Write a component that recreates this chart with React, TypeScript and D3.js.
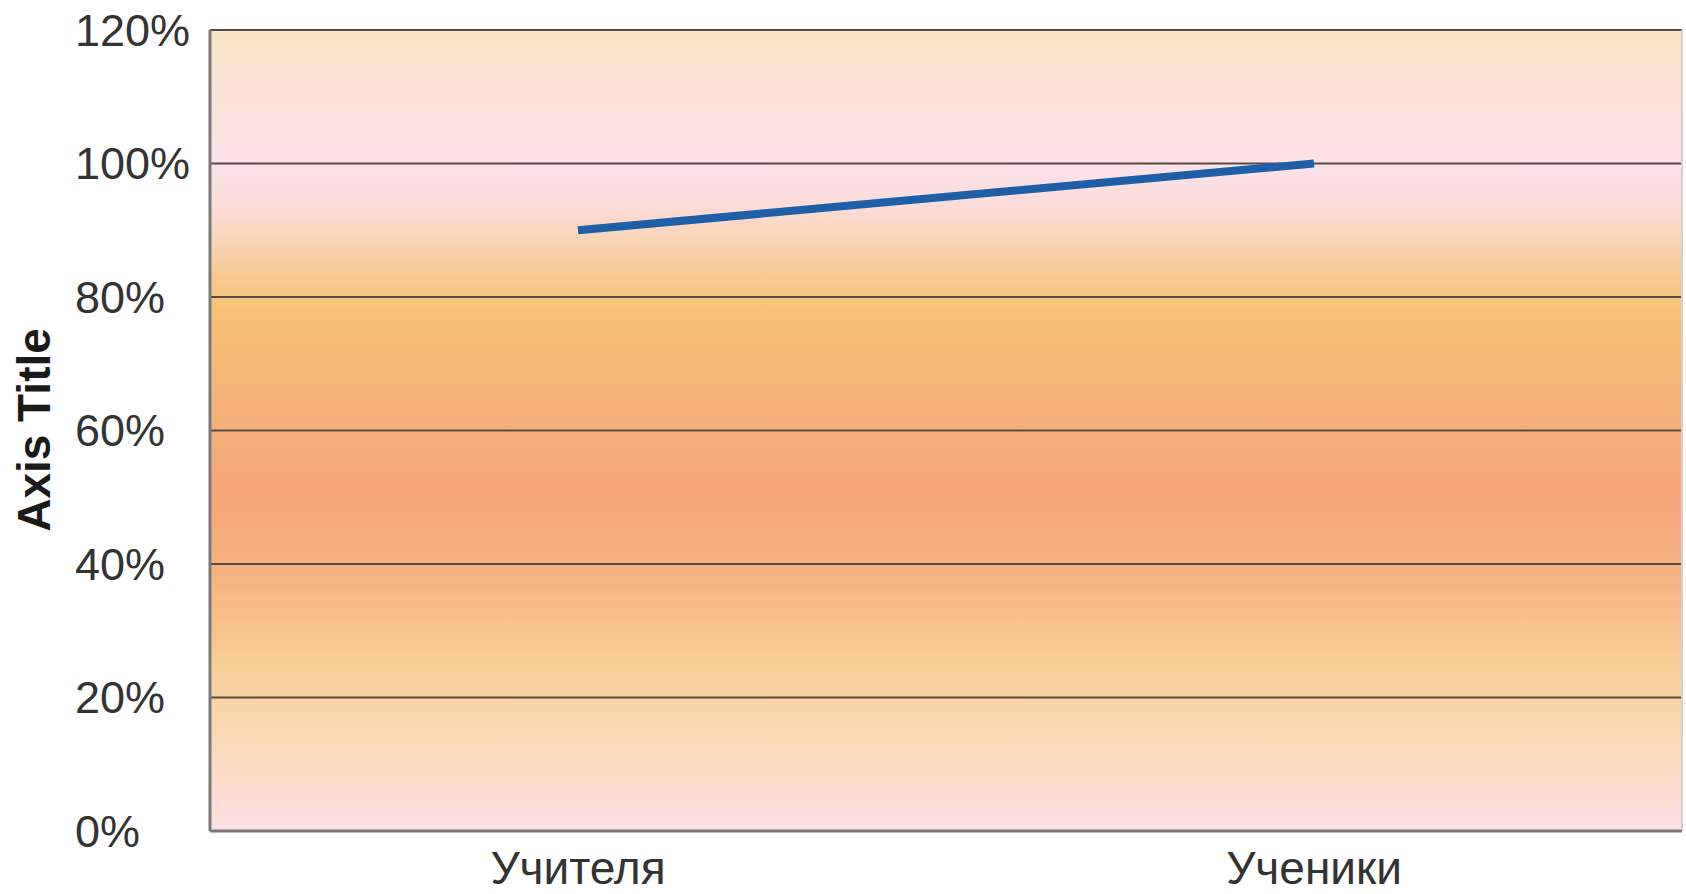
import React from "react";
import * as d3 from "d3";

const categories = ["Учителя", "Ученики"];
const values = [0.9, 1.0];
const yTicks = [0, 0.2, 0.4, 0.6, 0.8, 1.0, 1.2];
const axisTitle = "Axis Title";

const W = 1686;
const H = 894;
const margin = { left: 210, top: 30, right: 4, bottom: 63 };

export default function App() {
  const x = d3
    .scaleBand<string>()
    .domain(categories)
    .range([margin.left, W - margin.right])
    .padding(0);
  const y = d3
    .scaleLinear()
    .domain([0, 1.2])
    .range([H - margin.bottom, margin.top]);
  const fmt = d3.format(".0%");
  const line = d3
    .line<number>()
    .x((_, i) => (x(categories[i]) as number) + x.bandwidth() / 2)
    .y((d) => y(d));

  const stops: [number, string][] = [
    [0, "#f8e6c6"],
    [0.08, "#fbe3d8"],
    [0.17, "#fde2ea"],
    [0.22, "#fbdcd8"],
    [0.3, "#f8cc98"],
    [0.35, "#f7c276"],
    [0.45, "#f5b478"],
    [0.58, "#f5a67a"],
    [0.68, "#f6b282"],
    [0.8, "#f9d09a"],
    [0.88, "#fad8b4"],
    [1, "#fde0e6"],
  ];

  const left = margin.left;
  const right = W - margin.right;
  const top = margin.top;
  const bottom = H - margin.bottom;
  const font = "'Liberation Sans', Arial, sans-serif";

  return (
    <svg
      width={W}
      height={H}
      style={{ position: "absolute", left: 0, top: 0, background: "#fff" }}
    >
      <defs>
        <linearGradient id="bg" x1="0" y1="0" x2="0" y2="1">
          {stops.map(([o, c], i) => (
            <stop key={i} offset={o} stopColor={c} />
          ))}
        </linearGradient>
      </defs>
      <rect x={left} y={top} width={right - left} height={bottom - top} fill="url(#bg)" />
      {yTicks.map((t, i) => (
        <g key={i}>
          {t > 0 && (
            <line x1={left} x2={right} y1={y(t)} y2={y(t)} stroke="#5b4a40" strokeWidth={2} />
          )}
          <text
            x={75}
            y={y(t)}
            dominantBaseline="central"
            fontFamily={font}
            fontSize={45}
            fill="#333"
          >
            {fmt(t)}
          </text>
        </g>
      ))}
      <line x1={left} x2={left} y1={top} y2={bottom} stroke="#7a7a7a" strokeWidth={3} />
      <line x1={right} x2={right} y1={top} y2={bottom} stroke="#d8d0cc" strokeWidth={2} />
      <line x1={left} x2={right} y1={bottom} y2={bottom} stroke="#7a7a7a" strokeWidth={3} />
      <path d={line(values) || ""} fill="none" stroke="#1f5fa8" strokeWidth={8} />
      {categories.map((c) => (
        <text
          key={c}
          x={(x(c) as number) + x.bandwidth() / 2}
          y={884}
          textAnchor="middle"
          fontFamily={font}
          fontSize={46}
          fill="#333"
        >
          {c}
        </text>
      ))}
      <text
        transform={`translate(50, ${430}) rotate(-90)`}
        textAnchor="middle"
        fontFamily={font}
        fontSize={46}
        fontWeight="bold"
        fill="#1a1a1a"
      >
        {axisTitle}
      </text>
    </svg>
  );
}
